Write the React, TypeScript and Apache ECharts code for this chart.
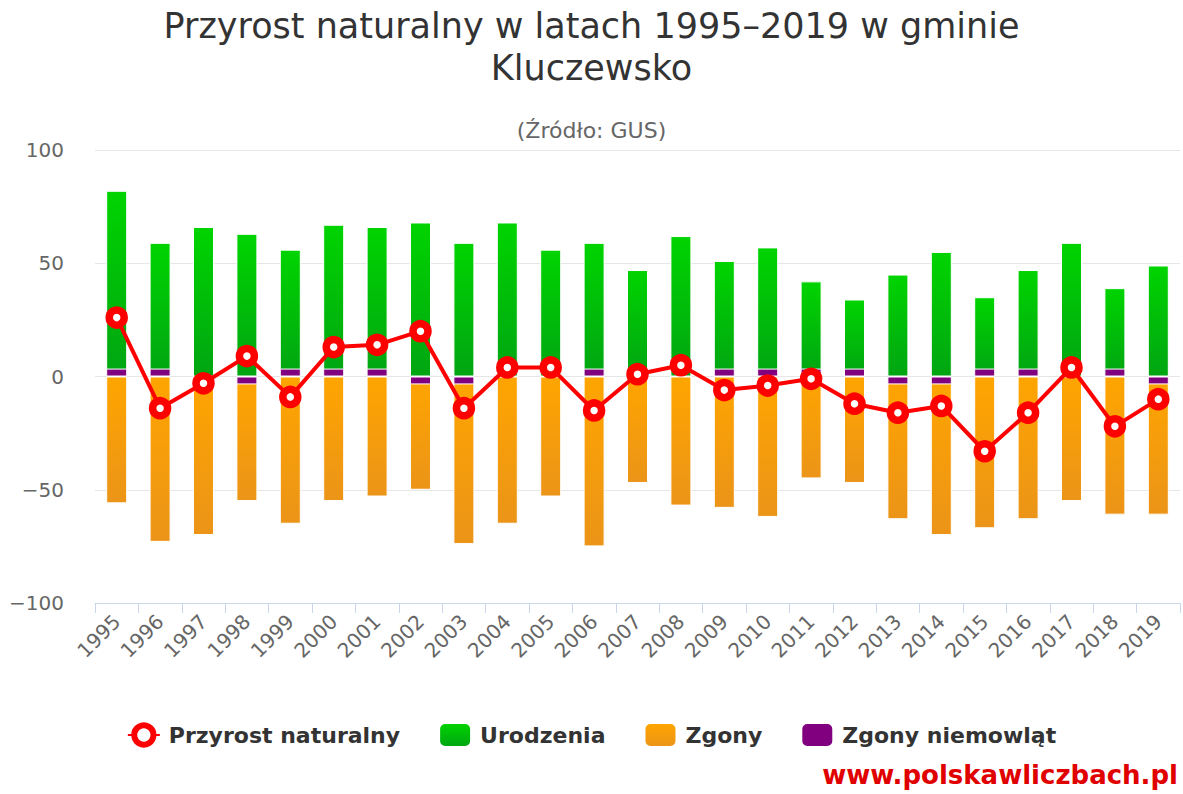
import React, { useEffect, useRef } from "react";
import * as echarts from "echarts";

const years = [
  "1995", "1996", "1997", "1998", "1999", "2000", "2001", "2002", "2003", "2004",
  "2005", "2006", "2007", "2008", "2009", "2010", "2011", "2012", "2013", "2014",
  "2015", "2016", "2017", "2018", "2019",
];
const urodzenia = [82, 59, 66, 63, 56, 67, 66, 68, 59, 68, 56, 59, 47, 62, 51, 57, 42, 34, 45, 55, 35, 47, 59, 39, 49];
const zgony = [-56, -73, -70, -55, -65, -55, -53, -50, -74, -65, -53, -75, -47, -57, -58, -62, -45, -47, -63, -70, -67, -63, -55, -61, -61];
const zgonyNiemowlat = [3.5, 3.5, 0, -3.5, 3.5, 3.5, 3.5, -3.5, -3.5, 0, 0, 3.5, 0, 0, 3.5, 3.5, 3.5, 3.5, -3.5, -3.5, 3.5, 3.5, 0, 3.5, -3.5];
const przyrost = [26, -14, -3, 9, -9, 13, 14, 20, -14, 4, 4, -15, 1, 5, -6, -4, -1, -12, -16, -13, -33, -16, 4, -22, -10];
const yTicks = [-100, -50, 0, 50, 100];

const FONT = "'DejaVu Sans', sans-serif";

export default function App() {
  const ref = useRef<HTMLDivElement>(null);
  useEffect(() => {
    document.body.style.margin = "0";
    if (!ref.current) return;
    const chart = echarts.init(ref.current, null, { renderer: "svg" });
    const barCommon = {
      type: "bar",
      barWidth: 21,
      barGap: "-100%",
    };
    chart.setOption({
      animation: false,
      textStyle: { fontFamily: FONT },
      title: [
        {
          text: "Przyrost naturalny w latach 1995–2019 w gminie\nKluczewsko",
          left: "center",
          top: 0,
          textStyle: { fontFamily: FONT, fontSize: 35, fontWeight: "normal", color: "#333", lineHeight: 42 },
        },
        {
          text: "(Źródło: GUS)",
          left: "center",
          top: 114,
          textStyle: { fontFamily: FONT, fontSize: 22, fontWeight: "normal", color: "#666" },
        },
      ],
      legend: {
        left: "center",
        top: 717,
        itemWidth: 32,
        itemHeight: 24,
        itemGap: 38,
        textStyle: { fontFamily: FONT, fontSize: 22, fontWeight: "bold", color: "#333", padding: [0, 0, 0, 4] },
        data: [
          { name: "Przyrost naturalny", itemStyle: { color: "#fff", borderColor: "#f00", borderWidth: 6 } },
          "Urodzenia",
          "Zgony",
          "Zgony niemowląt",
        ],
      },
      grid: { left: 95, right: 3, top: 150, bottom: 191, containLabel: false },
      xAxis: {
        type: "category",
        data: years,
        position: "bottom",
        axisLine: { onZero: false, lineStyle: { color: "#ccd6eb", width: 1 } },
        axisTick: { show: true, length: 10, lineStyle: { color: "#ccd6eb" } },
        axisLabel: { rotate: 45, fontSize: 20, color: "#666", margin: 15, fontFamily: FONT },
        splitLine: { show: false },
      },
      yAxis: {
        type: "value",
        min: yTicks[0],
        max: yTicks[yTicks.length - 1],
        interval: 50,
        axisLine: { show: false },
        axisTick: { show: false },
        axisLabel: {
          fontSize: 20,
          color: "#666",
          margin: 31,
          fontFamily: FONT,
          formatter: (v: number) => (v < 0 ? "\u2212" + Math.abs(v) : String(v)),
        },
        splitLine: { lineStyle: { color: "#e6e6e6", width: 1 } },
      },
      series: [
        {
          ...barCommon,
          name: "Urodzenia",
          data: urodzenia,
          itemStyle: {
            borderColor: "#fff",
            borderWidth: 1,
            color: new echarts.graphic.LinearGradient(0, 0, 0, 1, [
              { offset: 0, color: "#00d400" },
              { offset: 1, color: "#00a512" },
            ]),
          },
          z: 2,
        },
        {
          ...barCommon,
          name: "Zgony",
          data: zgony,
          itemStyle: {
            borderColor: "#fff",
            borderWidth: 1,
            color: new echarts.graphic.LinearGradient(0, 0, 0, 1, [
              { offset: 0, color: "#ffa500" },
              { offset: 1, color: "#eb9418" },
            ]),
          },
          z: 2,
        },
        {
          ...barCommon,
          name: "Zgony niemowląt",
          data: zgonyNiemowlat,
          itemStyle: { color: "#800080", borderColor: "#fff", borderWidth: 1 },
          z: 3,
        },
        {
          type: "line",
          name: "Przyrost naturalny",
          data: przyrost,
          symbol: "circle",
          symbolSize: 15,
          lineStyle: { color: "#f00", width: 4 },
          itemStyle: { color: "#fff", borderColor: "#f00", borderWidth: 7.5 },
          z: 5,
        },
      ],
      graphic: [
        {
          type: "text",
          right: 5,
          top: 762,
          style: {
            text: "www.polskawliczbach.pl",
            font: "bold 26px 'DejaVu Sans', sans-serif",
            fill: "#e00000",
          },
        },
      ],
    });
    return () => chart.dispose();
  }, []);
  return <div ref={ref} style={{ width: 1183, height: 794 }} />;
}
